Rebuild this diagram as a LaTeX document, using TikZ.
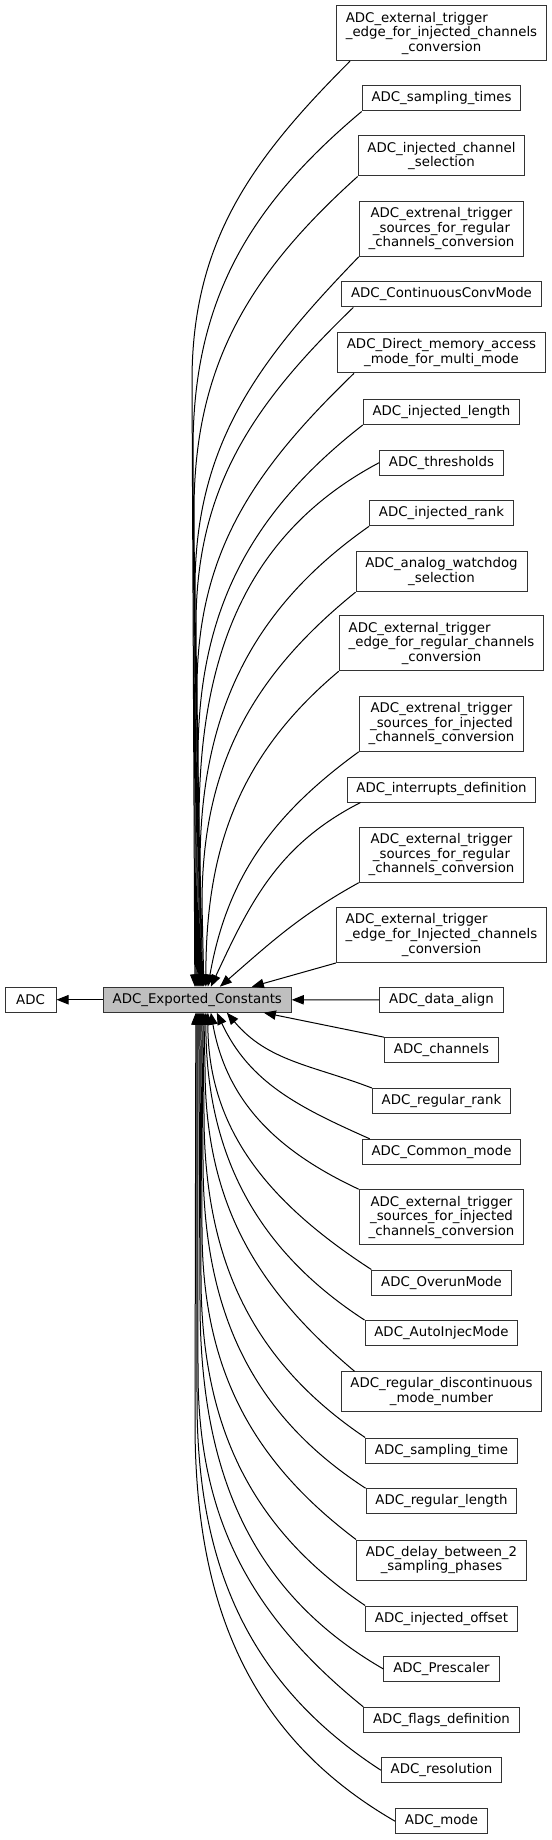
\documentclass[tikz,border=0pt]{standalone}
\usepackage{fontspec}
\setmainfont{DejaVu Sans}
\usetikzlibrary{arrows.meta,calc}
\newcommand{\padl}[2]{\rlap{#1}\hphantom{#2}}

\begin{document}
\begin{tikzpicture}[x=0.75pt,y=-0.75pt,
  grp/.style={draw=black!80,line width=0.75pt,fill=white,align=center,inner xsep=7pt,inner ysep=1pt,minimum height=18.75pt,font=\fontsize{10}{11}\selectfont},
  lines2/.style={minimum height=30pt},
  lines3/.style={minimum height=41.25pt},
  cur/.style={grp,fill=black!25},
  dep/.style={draw=black,line width=0.75pt,-{Triangle[length=9pt,width=7pt]}}]
\useasboundingbox (0,0) rectangle (551,1840);
\node[grp,minimum width=38.25pt] (adc) at (30.5,999.7) {ADC};
\node[cur] (exp) at (197.3,999.7) {ADC\_Exported\_Constants};
\node[grp,lines3] (edgeinj) at (441.5,33.2) {\padl{ADC\_external\_trigger}{\_edge\_for\_injected\_channels}\\\_edge\_for\_injected\_channels\\\_conversion};
\node[grp] (samptimes) at (441.5,98.5) {ADC\_sampling\_times};
\node[grp,lines2] (injchsel) at (441.5,156) {ADC\_injected\_channel\\\_selection};
\node[grp,lines3] (srcreg) at (441.5,228.8) {ADC\_extrenal\_trigger\\\_sources\_for\_regular\\\_channels\_conversion};
\node[grp] (contconv) at (441.5,294.5) {ADC\_ContinuousConvMode};
\node[grp,lines2] (dmamulti) at (441.5,352.8) {ADC\_Direct\_memory\_access\\\_mode\_for\_multi\_mode};
\node[grp] (injlen) at (441.5,412) {ADC\_injected\_length};
\node[grp] (thresh) at (441.5,462.7) {ADC\_thresholds};
\node[grp] (injrank) at (441.5,513.3) {ADC\_injected\_rank};
\node[grp,lines2] (awdsel) at (441.5,571.7) {ADC\_analog\_watchdog\\\_selection};
\node[grp,lines3] (edgereg) at (441.5,643.2) {\padl{ADC\_external\_trigger}{\_edge\_for\_regular\_channels}\\\_edge\_for\_regular\_channels\\\_conversion};
\node[grp,lines3] (srcinj) at (441.5,723.8) {ADC\_extrenal\_trigger\\\_sources\_for\_injected\\\_channels\_conversion};
\node[grp] (irq) at (441.5,789.5) {ADC\_interrupts\_definition};
\node[grp,lines3] (srcreg2) at (441.5,854.7) {ADC\_external\_trigger\\\_sources\_for\_regular\\\_channels\_conversion};
\node[grp,lines3] (edgeinj2) at (441.5,935) {\padl{ADC\_external\_trigger}{\_edge\_for\_Injected\_channels}\\\_edge\_for\_Injected\_channels\\\_conversion};
\node[grp] (align) at (441.5,1000) {ADC\_data\_align};
\node[grp] (channels) at (441.5,1050.2) {ADC\_channels};
\node[grp] (regrank) at (441.5,1101) {ADC\_regular\_rank};
\node[grp] (common) at (441.5,1151.8) {ADC\_Common\_mode};
\node[grp,lines3] (srcinj2) at (441.5,1217.2) {ADC\_external\_trigger\\\_sources\_for\_injected\\\_channels\_conversion};
\node[grp] (overrun) at (441.5,1282.5) {ADC\_OverunMode};
\node[grp] (autoinj) at (441.5,1333) {ADC\_AutoInjecMode};
\node[grp,lines2] (disc) at (441.5,1391.8) {ADC\_regular\_discontinuous\\\_mode\_number};
\node[grp] (samptime) at (441.5,1450.5) {ADC\_sampling\_time};
\node[grp] (reglen) at (441.5,1501.2) {ADC\_regular\_length};
\node[grp,lines2] (delay) at (441.5,1560) {ADC\_delay\_between\_2\\\_sampling\_phases};
\node[grp] (injoff) at (441.5,1618.5) {ADC\_injected\_offset};
\node[grp] (presc) at (441.5,1669) {ADC\_Prescaler};
\node[grp] (flags) at (441.5,1719.8) {ADC\_flags\_definition};
\node[grp] (resol) at (441.5,1770.2) {ADC\_resolution};
\node[grp] (mode) at (441.5,1821.2) {ADC\_mode};
\draw[dep] (exp) -- (adc);
\draw[dep] ($(edgeinj.south west)+(14,0)$) to[out=225,in=90] (192,381) -- ($(exp.north west)+(92,0)$);
\draw[dep] (samptimes.south west) to[out=220,in=90] (193,449) -- ($(exp.north west)+(93,0)$);
\draw[dep] (injchsel.south west) to[out=222,in=90] (194,511) -- ($(exp.north west)+(94,0)$);
\draw[dep] (srcreg.south west) to[out=226,in=90] (195,588) -- ($(exp.north west)+(95,0)$);
\draw[dep] ($(contconv.south west)+(12,0)$) to[out=224,in=90] (196,625) -- ($(exp.north west)+(96,0)$);
\draw[dep] ($(dmamulti.south west)+(17,0)$) to[out=224,in=90] (197,689) -- ($(exp.north west)+(97,0)$);
\draw[dep] (injlen.south west) to[out=218,in=90] (198,757) -- ($(exp.north west)+(98,0)$);
\draw[dep] (thresh.west) to[out=208,in=90] (199,823) -- ($(exp.north west)+(99,0)$);
\draw[dep] (injrank.south west) to[out=215,in=90] (200,866) -- ($(exp.north west)+(100,0)$);
\draw[dep] (awdsel.south west) to[out=219,in=90] (202,904) -- ($(exp.north west)+(101,0)$);
\draw[dep] (edgereg.south west) to[out=220,in=90] ($(exp.north west)+(103,0)$);
\draw[dep] (srcinj.south west) to[out=216,in=80] ($(exp.north west)+(105,0)$);
\draw[dep] ($(irq.south west)+(14,0)$) to[out=207,in=65] ($(exp.north west)+(108,0)$);
\draw[dep] (srcreg2.south west) to[out=209,in=41] ($(exp.north west)+(117,0)$);
\draw[dep] (edgeinj2.south west) -- ($(exp.north west)+(149,0)$);
\draw[dep] (align) -- (exp);
\draw[dep] (channels.north west) -- ($(exp.south west)+(161,0)$);
\draw[dep] (regrank.north west) to[out=159,in=-50] ($(exp.south west)+(124,0)$);
\draw[dep] ($(common.north west)+(8,0)$) to[out=156,in=-65] ($(exp.south west)+(114,0)$);
\draw[dep] (srcinj2.north west) to[out=155,in=-80] ($(exp.south west)+(108,0)$);
\draw[dep] (overrun.north west) to[out=147,in=-90] ($(exp.south west)+(105,0)$);
\draw[dep] (autoinj.north west) to[out=147,in=-90] ($(exp.south west)+(103,0)$);
\draw[dep] ($(disc.north west)+(14,0)$) to[out=140,in=-90] (205,1067) -- ($(exp.south west)+(101,0)$);
\draw[dep] (samptime.north west) to[out=146,in=-90] (204,1114) -- ($(exp.south west)+(100,0)$);
\draw[dep] (reglen.north west) to[out=147,in=-90] (203,1160) -- ($(exp.south west)+(99,0)$);
\draw[dep] (delay.north west) to[out=143,in=-90] (202,1228) -- ($(exp.south west)+(98,0)$);
\draw[dep] (injoff.north west) to[out=146,in=-90] (201,1276) -- ($(exp.south west)+(97,0)$);
\draw[dep] (presc.west) to[out=150,in=-90] (200,1301) -- ($(exp.south west)+(96,0)$);
\draw[dep] (flags.north west) to[out=141,in=-90] (198,1371) -- ($(exp.south west)+(95,0)$);
\draw[dep] (resol.west) to[out=147,in=-90] (197,1400) -- ($(exp.south west)+(94,0)$);
\draw[dep] (mode.west) to[out=150,in=-90] (195,1423) -- ($(exp.south west)+(93,0)$);
\end{tikzpicture}
\end{document}
